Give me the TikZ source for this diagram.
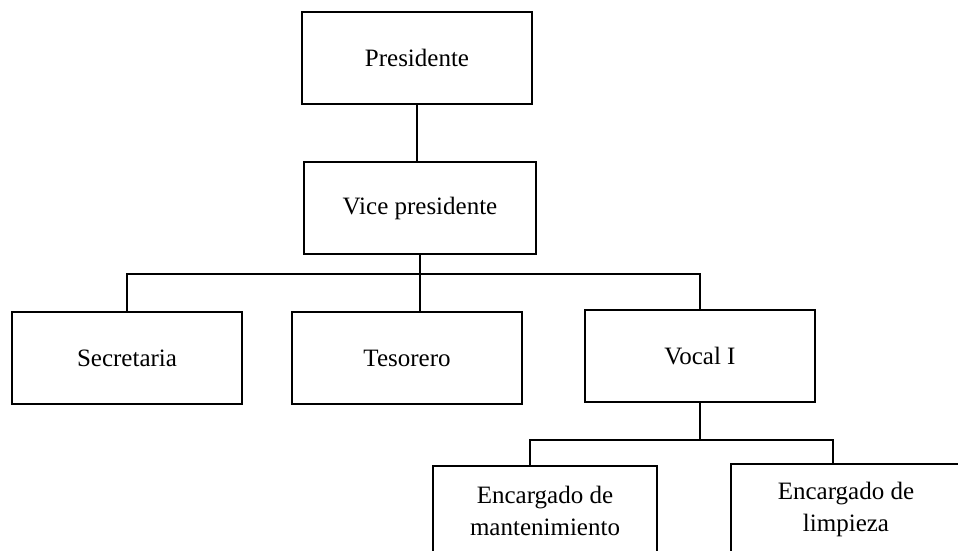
\documentclass[tikz,border=0pt]{standalone}
\usepackage{fontspec}
\setmainfont{Liberation Serif}
\usepackage{tikz}
\usepackage{xcolor}

\begin{document}
\begin{tikzpicture}[x=.5pt,y=-.5pt,line width=.8pt,
    cargo/.style={draw,minimum width=115pt,minimum height=46pt,inner sep=0pt,
      align=center,font=\fontsize{12.5}{16}\selectfont}]
  \useasboundingbox (0,0) rectangle (958,551);
  \clip (0,0) rectangle (958,551);

  \node[cargo] (pres) at (417,58) {Presidente};
  \node[cargo,minimum width=116pt] (vice) at (420,208) {Vice presidente};

  \node[cargo] (sec) at (127,358) {Secretaria};
  \node[cargo] (tes) at (407,358) {Tesorero};
  \node[cargo] (voc) at (700,356) {Vocal I};

  \node[cargo,minimum width=112pt,minimum height=45pt] (mant) at (545,511)
    {Encargado de\\mantenimiento};
  \node[cargo,minimum height=45pt] (limp) at (846,509)
    {Encargado de\\limpieza};

  \coordinate (bus) at (0,274);
  \coordinate (busi) at (530,440);
  \coordinate (buso) at (833,440);

  \draw (pres.south) -- (pres.south |- vice.north);
  \draw (vice.south) -- (vice.south |- tes.north);
  \draw (sec.north) -- (sec.north |- bus) -- (voc.north |- bus) -- (voc.north);
  \draw (voc.south) -- (voc.south |- busi);
  \draw (mant.north -| busi) -- (busi) -- (buso) -- (limp.north -| buso);
\end{tikzpicture}
\end{document}
